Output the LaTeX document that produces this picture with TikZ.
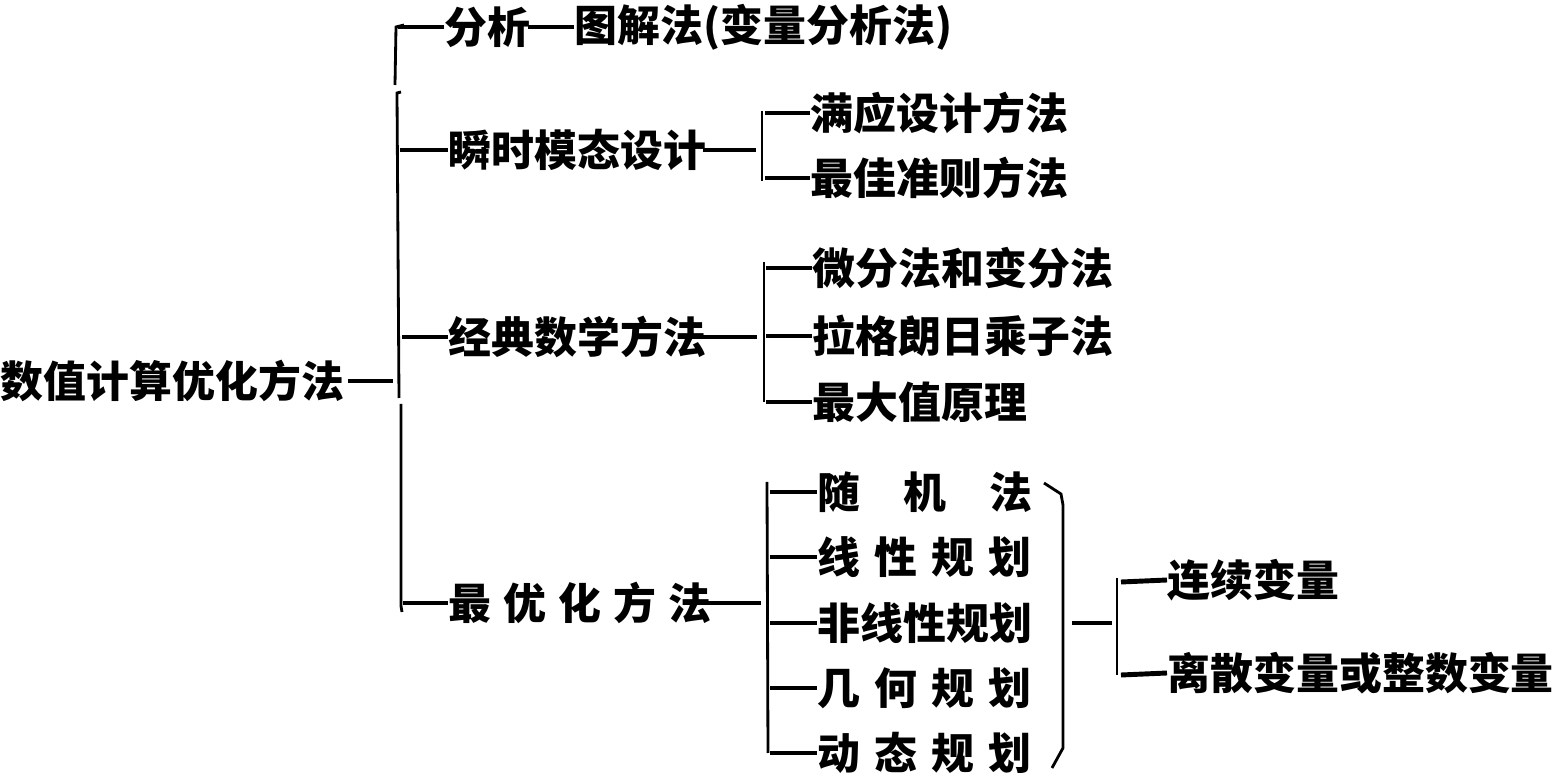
\documentclass[tikz,border=0pt]{standalone}
\usepackage{fontspec}
\newfontfamily\cjk{Noto Sans CJK SC}
\tikzset{
  txt/.style={anchor=west, inner sep=0pt, font=\cjk\bfseries\fontsize{12.2pt}{14pt}\selectfont},
  dashl/.style={line width=1.4pt},
  brk/.style={line width=0.8pt}
}
\begin{document}
\begin{tikzpicture}[x=0.01cm,y=-0.01cm]
\useasboundingbox (0,0) rectangle (1559,773);
% root
\node[txt] (root) at (0,381) {数值计算优化方法};
\coordinate (rootdash) at (393,381);
\draw[dashl] ([xshift=1pt]root.east) -- (rootdash);
% main vertical bracket (segments)
\coordinate (mA) at (395,85);
\coordinate (mB) at (397,93);
\coordinate (mC) at (399,398);
\coordinate (mD) at (401,404);
\coordinate (mE) at (402,612);
\draw[brk] (404,25) -- (396,27) -- (mA);
\draw[brk] (401,92) -- (mB) -- (mC);
\draw[brk] (mD) -- (401,606) -- (mE);
% level 1
\node[txt] (fx) at (444,27) {分析};
\node[txt] (tj) at (574,27) {图解法(变量分析法)};
\draw[dashl] (398,27) -- (fx.west);
\draw[dashl] ([xshift=-1pt]fx.east) -- (tj.west);

\node[txt] (ss) at (448,150) {瞬时模态设计};
\draw[dashl] (400,150) -- (ss.west);
\node[txt] (jd) at (448,337) {经典数学方法};
\draw[dashl] (402,337) -- (jd.west);
\node[txt] (zy) at (448,603) {最\hspace{0.28em}优\hspace{0.28em}化\hspace{0.28em}方\hspace{0.28em}法};
\draw[dashl] (403,603) -- (zy.west);

% level 2: 瞬时模态设计
\coordinate (b1t) at (762,111);
\coordinate (b1b) at (762,181);
\draw[dashl] ([xshift=-1pt]ss.east) -- (756,150);
\draw[brk] (b1t) -- (b1b);
\node[txt] (my) at (810,113) {满应设计方法};
\node[txt] (zj) at (810,178) {最佳准则方法};
\draw[dashl] (765,113) -- (my.west);
\draw[dashl] (765,178) -- (zj.west);

% level 2: 经典数学方法
\coordinate (b2t) at (764,262);
\coordinate (b2b) at (764,402);
\draw[dashl] ([xshift=-1pt]jd.east) -- (757,337);
\draw[brk] (b2t) -- (b2b);
\node[txt] (wf) at (812,268) {微分法和变分法};
\node[txt] (lg) at (812,336) {拉格朗日乘子法};
\node[txt] (zd) at (812,402) {最大值原理};
\draw[dashl] (766,268) -- (wf.west);
\draw[dashl] (766,336) -- (lg.west);
\draw[dashl] (766,402) -- (zd.west);

% level 2: 最优化方法
\coordinate (b3t) at (767,482);
\coordinate (b3b) at (768,753);
\draw[dashl] ([xshift=-1pt]zy.east) -- (761,603);
\draw[brk] (b3t) -- (b3b);
\node[txt] (sj) at (817,492) {随\hspace{1em}机\hspace{1em}法};
\node[txt] (xx) at (817,557) {线\hspace{0.33em}性\hspace{0.33em}规\hspace{0.33em}划};
\node[txt] (fx2) at (817,623) {非线性规划};
\node[txt] (jh) at (817,688) {几\hspace{0.33em}何\hspace{0.33em}规\hspace{0.33em}划};
\node[txt] (dt) at (817,753) {动\hspace{0.33em}态\hspace{0.33em}规\hspace{0.33em}划};
\foreach \n/\yy in {sj/492,xx/557,fx2/623,jh/688,dt/753}
  \draw[dashl] (770,\yy) -- (\n.west);

% right brace
\coordinate (brT) at (1044,483);
\coordinate (brB) at (1052,768);
\draw[brk] (brT) -- (1061,494) -- (1063,505) -- (1063,748) -- (brB);
\coordinate (brM) at (1072,623);
\coordinate (b4m) at (1112,623);
\draw[dashl] (brM) -- (b4m);

% level 3
\coordinate (b4t) at (1117,578);
\coordinate (b4b) at (1117,675);
\draw[brk] (b4t) -- (b4b);
\node[txt] (lx) at (1167,580) {连续变量};
\node[txt] (ls) at (1167,673) {离散变量或整数变量};
\draw[dashl] (1121,582) -- (lx.west);
\draw[dashl] (1121,675) -- (ls.west);
\end{tikzpicture}
\end{document}
